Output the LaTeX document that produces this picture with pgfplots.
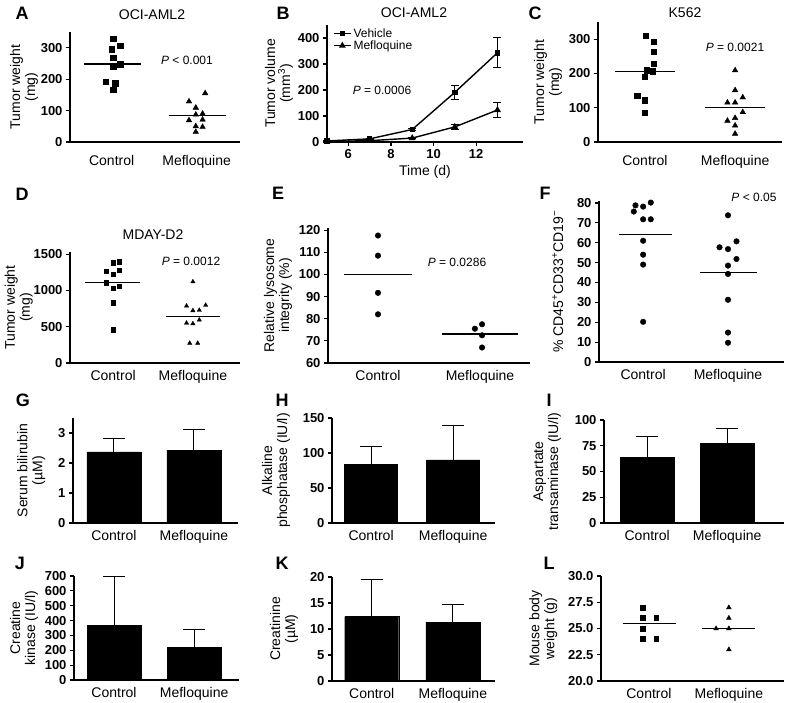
\documentclass[border=0pt]{standalone}
\usepackage{pgfplots}
\pgfplotsset{compat=1.18}
\usepackage{fontspec}
\setmainfont{Liberation Sans}
\newcommand\tf{\fontsize{13}{14}\fontseries{b}\selectfont}
\newcommand\cf{\fontsize{14}{16}\selectfont}
\newcommand\lf{\fontsize{14}{15}\selectfont}
\newcommand\pf{\fontsize{12}{14}\selectfont}
\newcommand\Lf{\fontsize{18}{20}\fontseries{b}\selectfont}
\pgfplotsset{
 gp/.style={
  scale only axis, anchor=south west,
  axis x line*=bottom, axis y line*=left,
  axis line style={line width=1.4pt},
  tick align=outside,
  major tick length=4pt,
  every tick/.append style={line width=1.2pt, black},
  tick label style={font=\tf},
  yticklabel style={font=\tf},
  ylabel style={font=\lf, align=center},
  xlabel style={font=\lf},
  /pgf/number format/assume math mode=true,
  /pgf/number format/1000 sep={},
  clip=false,
 },
 cat/.style={gp, xtick={0,1}, xticklabels={Control,Mefloquine},
  xticklabel style={font=\cf}, xtick style={draw=none}},
 sq/.style={only marks, mark=square*, mark size=#1, black},
 sq/.default=2.7pt,
 tri/.style={only marks, mark=triangle*, mark size=#1, black},
 tri/.default=3.2pt,
 dot/.style={only marks, mark=*, mark size=2.8pt, black},
 mean/.style={black, line width=1.2pt, no marks},
 gbar/.style={ybar, fill=black, draw=black, bar width=#1,
  /pgfplots/error bars/y dir=plus, /pgfplots/error bars/y explicit,
  /pgfplots/error bars/error bar style={line width=1pt, black},
  /pgfplots/error bars/error mark options={rotate=90, mark size=11pt, line width=1pt, black}},
}
\begin{document}
\begin{tikzpicture}[x=1pt,y=1pt]
\useasboundingbox (0,0) rectangle (787,703);
% ---------- A
\begin{axis}[cat, at={(70pt,561pt)}, width=170pt, height=110pt,
  xmin=-0.49, xmax=1.51, ymin=0, ymax=350, ytick={0,100,200,300},
  xticklabel style={yshift=-6pt}, ylabel shift=-4pt,
  ylabel={Tumor weight\\(mg)}]
\addplot[sq] coordinates {(0.02,329)(0,295)(0.1,306)(0.02,269)(0.02,240)(0.1,248)(-0.07,192)(0.04,187)(0.02,166)};
\addplot[tri] coordinates {(1.1,155)(0.91,129)(0.99,109)(0.99,87)(1.07,90)(0.91,69)(1.07,71)(0.99,50)(1.07,48)(0.99,32)};
\addplot[mean] coordinates {(-0.33,248)(0.35,248)};
\addplot[mean] coordinates {(0.67,85)(1.35,85)};
\end{axis}
% ---------- B
\begin{axis}[gp, at={(327pt,561pt)}, width=196pt, height=117pt,
  xmin=5, xmax=14.2, ymin=0, ymax=450, xtick={6,8,10,12}, ytick={0,100,200,300,400},
  xlabel={Time (d)}, ylabel={Tumor volume\\(mm\textsuperscript{3})}, ylabel shift=-2pt,
  legend style={draw=none, fill=none, at={(0.03,0.99)}, anchor=north west, font=\pf, row sep=-2pt, inner sep=0pt},
  legend cell align=left]
\addplot[black, line width=1.4pt, mark=square*, mark size=2pt,
  error bars/.cd, y dir=both, y explicit, error bar style={line width=1pt}, error mark options={rotate=90, mark size=4pt, line width=1pt}]
  coordinates {(5,4)+-(0,0) (7,12)+-(0,3) (9,48)+-(0,4) (11,191)+-(0,27) (13,343)+-(0,58)};
\addplot[black, line width=1.4pt, mark=triangle*, mark size=2.6pt,
  error bars/.cd, y dir=both, y explicit, error bar style={line width=1pt}, error mark options={rotate=90, mark size=4pt, line width=1pt}]
  coordinates {(5,2)+-(0,0) (7,5)+-(0,0) (9,15)+-(0,2) (11,58)+-(0,11) (13,123)+-(0,29)};
\legend{Vehicle, Mefloquine}
\end{axis}
% ---------- C
\begin{axis}[cat, at={(598pt,561pt)}, width=184pt, height=120pt,
  xmin=-0.52, xmax=1.52, ymin=0, ymax=350, ytick={0,100,200,300},
  xticklabel style={yshift=-6pt},
  ylabel={Tumor weight\\(mg)}]
\addplot[sq] coordinates {(0.01,310)(0.1,293)(0.1,264)(0.1,228)(0.02,209)(0.085,207)(0,190)(-0.085,135)(0,122)(0,85)};
\addplot[tri] coordinates {(1,209)(1,151)(1.085,130)(0.915,115)(1,115)(1.085,87)(0.915,62)(1,70)(1,48)(1,24)};
\addplot[mean] coordinates {(-0.33,205)(0.33,205)};
\addplot[mean] coordinates {(0.67,101)(1.33,101)};
\end{axis}
% ---------- D
\begin{axis}[cat, at={(70pt,340pt)}, width=170pt, height=111pt,
  xmin=-0.54, xmax=1.59, ymin=0, ymax=1530, ytick={0,500,1000,1500},
  ylabel shift=-6pt,
  ylabel={Tumor weight\\(mg)}]
\addplot[sq=2.2pt] coordinates {(0,1385)(0.08,1398)(-0.09,1268)(0.08,1278)(0,1222)(-0.09,1106)(0,1028)(0.08,1060)(0,829)(0,458)};
\addplot[tri=2.5pt] coordinates {(1,1120)(0.92,786)(1,722)(1.08,727)(1.16,796)(0.92,551)(1,542)(1.08,593)(0.96,273)(1.06,273)};
\addplot[mean] coordinates {(-0.35,1106)(0.34,1106)};
\addplot[mean] coordinates {(0.66,640)(1.34,640)};
\end{axis}
% ---------- E
\begin{axis}[cat, at={(328pt,340pt)}, width=202pt, height=135pt,
  xmin=-0.49, xmax=1.49, ymin=60, ymax=121, ytick={60,70,80,90,100,110,120},
  ylabel={Relative lysosome\\integrity (\%)}]
\addplot[dot] coordinates {(0,117.6)(0,108.5)(0,91.7)(0,82)};
\addplot[dot] coordinates {(0.95,75.5)(1.02,77.5)(1.02,72.5)(1.02,67)};
\addplot[mean] coordinates {(-0.33,100)(0.33,100)};
\addplot[mean] coordinates {(0.63,73.1)(1.37,73.1)};
\end{axis}
% ---------- F
\begin{axis}[cat, at={(599pt,341pt)}, width=185pt, height=161pt,
  xmin=-0.52, xmax=1.66, ymin=0, ymax=81, ytick={0,10,20,30,40,50,60,70,80},
  ylabel shift=7pt,
  ylabel={\% CD45\textsuperscript{+}CD33\textsuperscript{+}CD19\textsuperscript{−}}]
\addplot[dot] coordinates {(-0.09,78.8)(0,78.2)(0.09,80.2)(-0.11,75.7)(0,71.8)(0.09,71.8)(0,61)(0,54)(0,49)(0,20.2)};
\addplot[dot] coordinates {(1,73.8)(1.1,60.7)(0.9,57.7)(1,56.8)(1.1,51.8)(1,48.5)(1,44.3)(1,31.3)(1,14.8)(1,9.7)};
\addplot[mean] coordinates {(-0.28,64)(0.34,64)};
\addplot[mean] coordinates {(0.67,45)(1.34,45)};
\end{axis}
% ---------- G
\begin{axis}[cat, at={(73pt,180pt)}, width=165pt, height=105pt,
  xmin=-0.51, xmax=1.55, ymin=0, ymax=3.5, ytick={0,1,2,3},
  ylabel shift=6pt,
  ylabel={Serum bilirubin\\(µM)}]
\addplot[gbar=54pt] coordinates {(0,2.37)+-(0,0.46) (1,2.43)+-(0,0.67)};
\end{axis}
% ---------- H
\begin{axis}[cat, at={(332pt,180pt)}, width=163pt, height=105pt,
  xmin=-0.476, xmax=1.51, ymin=0, ymax=150, ytick={0,50,100,150},
  ylabel shift=6pt,
  ylabel={Alkaline\\phosphatase (IU/l)}]
\addplot[gbar=53pt] coordinates {(0,84)+-(0,25) (1,90)+-(0,49)};
\end{axis}
% ---------- I
\begin{axis}[cat, at={(604pt,180pt)}, width=180pt, height=103pt,
  xmin=-0.54, xmax=1.71, ymin=0, ymax=100, ytick={0,25,50,75,100},
  ylabel shift=7pt,
  ylabel={Aspartate\\transaminase (IU/l)}]
\addplot[gbar=54pt] coordinates {(0,64)+-(0,19.5) (1,77)+-(0,15)};
\end{axis}
% ---------- J
\begin{axis}[cat, at={(74pt,23pt)}, width=165pt, height=104pt,
  xmin=-0.5, xmax=1.56, ymin=0, ymax=700, ytick={0,100,200,300,400,500,600,700},
  ylabel={Creatine\\kinase (IU/l)}]
\addplot[gbar=54pt] coordinates {(0,370)+-(0,330) (1,222)+-(0,121)};
\end{axis}
% ---------- K
\begin{axis}[cat, at={(332pt,22pt)}, width=163pt, height=104pt,
  xmin=-0.49, xmax=1.52, ymin=0, ymax=20, ytick={0,5,10,15,20},
  ylabel shift=5pt,
  ylabel={Creatinine\\(µM)}]
\addplot[gbar=54pt] coordinates {(0,12.4)+-(0,7.2) (1,11.3)+-(0,3.4)};
\end{axis}
% ---------- L
\begin{axis}[cat, at={(601pt,22pt)}, width=183pt, height=105pt,
  xmin=-0.6, xmax=1.69, ymin=20, ymax=30, ytick={20,22.5,25,27.5,30},
  yticklabel style={/pgf/number format/.cd, fixed, fixed zerofill, precision=1},
  ylabel shift=4pt,
  ylabel={Mouse body\\weight (g)}]
\addplot[sq=2.4pt] coordinates {(-0.075,27)(-0.075,26)(0.09,26)(-0.075,25)(-0.075,24)(0.09,24)};
\addplot[tri=2.7pt] coordinates {(1,27)(1,26)(0.84,25)(1,25)(1,23)};
\addplot[mean] coordinates {(-0.33,25.5)(0.34,25.5)};
\addplot[mean] coordinates {(0.67,25)(1.33,25)};
\end{axis}
% ---------- titles, letters, P values
\node[font=\lf] at (152,688) {OCI-AML2};
\node[font=\lf] at (414,690) {OCI-AML2};
\node[font=\lf] at (685,690) {K562};
\node[font=\lf] at (153,468) {MDAY-D2};
\node[font=\Lf] at (22,690) {A};
\node[font=\Lf] at (283,690) {B};
\node[font=\Lf] at (535,690) {C};
\node[font=\Lf] at (22,509) {D};
\node[font=\Lf] at (278,510) {E};
\node[font=\Lf] at (545,510) {F};
\node[font=\Lf] at (23,303) {G};
\node[font=\Lf] at (282,303) {H};
\node[font=\Lf] at (549,303) {I};
\node[font=\Lf] at (20,140) {J};
\node[font=\Lf] at (282,140) {K};
\node[font=\Lf] at (549,140) {L};
\node[font=\pf] at (187,643) {\textit{P} < 0.001};
\node[font=\pf] at (382,613) {\textit{P} = 0.0006};
\node[font=\pf] at (735,656) {\textit{P} = 0.0021};
\node[font=\pf] at (191,442) {\textit{P} = 0.0012};
\node[font=\pf] at (457,441) {\textit{P} = 0.0286};
\node[font=\pf] at (754,506) {\textit{P} < 0.05};
\end{tikzpicture}
\end{document}
